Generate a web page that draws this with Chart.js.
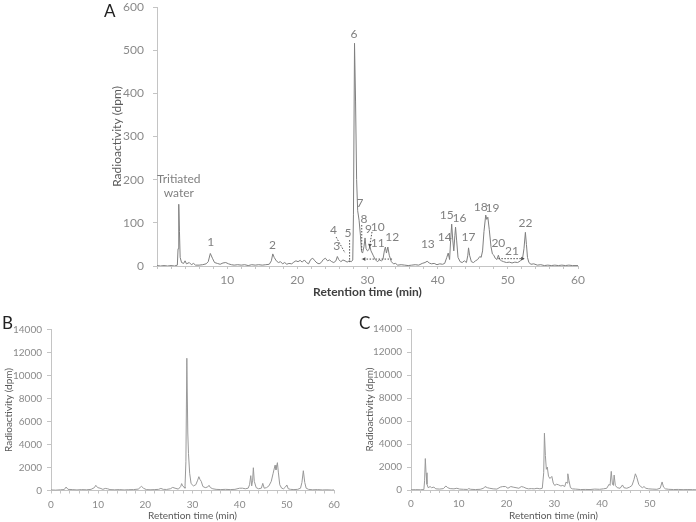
<!DOCTYPE html>
<html>
<head>
<meta charset="utf-8">
<script src="https://cdn.jsdelivr.net/npm/chart.js@4.4.1/dist/chart.umd.min.js"></script>
<style>
  body { margin: 0; background: #fff; }
  #wrap { position: relative; width: 696px; height: 522px; overflow: hidden; font-family: Lato, sans-serif; }
  canvas { position: absolute; }
  .panel { position: absolute; font-size: 17px; line-height: 1; color: #222; }
</style>
</head>
<body>
<div id="wrap">
  <canvas id="chartA" width="495" height="300" style="left:95px;top:0"></canvas>
  <canvas id="chartB" width="345" height="212" style="left:0;top:310px"></canvas>
  <canvas id="chartC" width="341" height="212" style="left:355px;top:310px"></canvas>
  <div class="panel" style="left:104px;top:2px">A</div>
  <div class="panel" style="left:2px;top:314px">B</div>
  <div class="panel" style="left:359px;top:314px">C</div>
</div>
<script>
// Panel A trace (retention time in min, radioactivity in dpm)
const timeA = [0, 0.5, 1, 1.5, 2, 2.5, 2.9, 3, 3.1, 3.2, 3.3, 3.5, 3.8, 4, 4.2, 4.6, 4.9, 5.2, 5.5, 6, 6.5, 7, 7.3, 7.6, 7.9, 8.2, 8.6, 9, 9.4, 9.8,
  10.2, 10.6, 11, 11.5, 12, 12.5, 13, 13.5, 14, 14.5, 15, 15.5, 16, 16.3, 16.5, 16.7, 17, 17.3, 17.6, 17.9, 18.2, 18.5, 18.8, 19.2, 19.5, 19.8,
  20.1, 20.4, 20.7, 21, 21.3, 21.6, 21.9, 22.2, 22.5, 22.8, 23.1, 23.4, 23.7, 24, 24.3, 24.6, 24.9, 25.2, 25.5, 25.7, 25.9, 26.2, 26.5, 26.8,
  27.1, 27.4, 27.7, 27.9, 28, 28.15, 28.3, 28.45, 28.6, 28.8, 29, 29.15, 29.3, 29.5, 29.65, 29.8, 30, 30.2, 30.35, 30.5, 30.8, 31.1, 31.4,
  31.7, 32, 32.2, 32.4, 32.55, 32.7, 32.9, 33.1, 33.4, 33.7, 34, 34.3, 34.8, 35.3, 35.8, 36.3, 36.8, 37.3, 37.8, 38.2, 38.5, 38.8, 39.1,
  39.5, 39.9, 40.3, 40.7, 41, 41.3, 41.5, 41.7, 41.85, 42, 42.15, 42.3, 42.45, 42.55, 42.7, 42.9, 43.2, 43.5, 43.8, 44.1, 44.3, 44.4, 44.55,
  44.8, 45.1, 45.4, 45.7, 46, 46.2, 46.4, 46.6, 46.85, 47, 47.15, 47.35, 47.6, 47.8, 48, 48.2, 48.45, 48.65, 48.85, 49.1, 49.4, 49.8, 50.2,
  50.6, 51, 51.4, 51.8, 52.1, 52.3, 52.5, 52.65, 52.8, 53, 53.3, 53.7, 54.2, 54.7, 55.2, 55.7, 56.2, 56.7, 57.2, 57.7, 58.2, 58.7, 59.2, 60];
const dpmA = [1, 0, 1, 0, 1, 0, 2, 40, 143, 80, 20, 8, 6, 12, 5, 8, 3, 6, 2, 2, 3, 5, 10, 29, 18, 8, 6, 4, 7, 8,
  5, 3, 2, 3, 2, 3, 1, 3, 2, 3, 2, 3, 4, 12, 28, 20, 12, 8, 10, 5, 8, 4, 6, 5, 9, 12,
  10, 13, 9, 14, 8, 5, 15, 18, 12, 7, 5, 8, 15, 18, 12, 14, 10, 8, 12, 22, 15, 10, 14, 12,
  9, 12, 10, 14, 120, 516, 380, 200, 128, 106, 70, 33, 30, 45, 65, 40, 35, 38, 45, 35, 25, 15, 10,
  14, 12, 15, 35, 44, 30, 44, 25, 10, 5, 6, 2, 3, 2, 1, 2, 3, 2, 6, 8, 11, 7, 5,
  6, 3, 5, 4, 6, 20, 30, 15, 60, 97, 60, 35, 70, 90, 60, 20, 10, 8, 12, 8, 25, 42, 25,
  10, 8, 12, 15, 22, 20, 35, 80, 118, 108, 113, 85, 45, 28, 25, 18, 15, 25, 15, 12, 10, 8, 9,
  7, 9, 8, 12, 18, 40, 78, 50, 20, 8, 4, 5, 2, 3, 1, 2, 1, 2, 1, 2, 1, 2, 1, 1];

// Panel B trace
const timeB = [0, 1, 2, 2.8, 3.2, 3.6, 4.5, 5.5, 6.5, 7.5, 8.5, 9.2, 9.5, 9.9, 10.4, 11, 11.5, 12, 12.5, 13.5, 14.5, 15.5, 16.5, 17.5,
  18.5, 19, 19.2, 19.6, 20.2, 21, 22, 22.8, 23.3, 23.8, 24.5, 25.3, 25.8, 26.3, 27, 27.5, 27.7, 27.9, 28.2, 28.4, 28.6, 28.8, 29, 29.15,
  29.4, 29.7, 30.2, 30.7, 31.1, 31.35, 31.6, 31.85, 32.2, 32.7, 33.2, 33.5, 33.8, 34.3, 35, 36, 37, 38, 39, 40, 40.6, 41.2, 41.8, 42.1,
  42.35, 42.55, 42.75, 42.9, 43.1, 43.5, 44, 44.6, 44.9, 45.2, 45.7, 46.2, 46.7, 47.1, 47.5, 47.7, 48, 48.2, 48.5, 48.9, 49.3, 49.7, 50,
  50.3, 50.8, 51.5, 52.3, 52.9, 53.2, 53.5, 53.8, 54.1, 54.6, 55.5, 56.5, 57.5, 58.5, 59.5, 60];
const dpmB = [50, 30, 60, 80, 300, 100, 80, 50, 80, 60, 100, 250, 450, 250, 200, 100, 180, 150, 80, 60, 80, 50, 70, 80,
  120, 300, 360, 200, 80, 60, 80, 100, 180, 100, 90, 150, 270, 200, 120, 350, 600, 400, 300, 200, 2500, 11500, 5000, 3200,
  1500, 600, 400, 500, 900, 1200, 950, 800, 350, 250, 300, 450, 250, 150, 100, 80, 100, 80, 100, 200, 200, 150, 200, 500,
  1290, 400, 900, 1980, 800, 250, 150, 200, 620, 200, 250, 400, 800, 1500, 2200, 1800, 2420, 1600, 500, 200, 150, 300, 480,
  150, 100, 80, 100, 200, 700, 1720, 700, 200, 100, 60, 80, 50, 60, 40, 50];

// Panel C trace
const timeC = [0, 1, 2, 2.7, 2.85, 3, 3.15, 3.35, 3.6, 4, 4.3, 4.8, 5.2, 6, 6.8, 7.3, 7.7, 8.2, 9, 9.6, 10.2, 11, 11.8, 12.1, 12.5,
  13.5, 14.5, 15.2, 15.5, 16, 16.5, 17.2, 18, 18.7, 19.2, 19.8, 20.3, 20.9, 21.4, 22, 22.6, 23.1, 23.6, 24.1, 24.6, 25.2, 25.8, 26.4,
  27, 27.5, 27.8, 27.95, 28.15, 28.35, 28.55, 28.8, 29.1, 29.5, 29.8, 30.1, 30.5, 30.9, 31.4, 31.8, 32.2, 32.5, 32.7, 32.85, 33.1, 33.4,
  33.8, 34.5, 35.5, 36.5, 37.5, 38.5, 39.5, 40.3, 41, 41.5, 41.7, 41.95, 42.2, 42.4, 42.55, 42.8, 43.2, 43.8, 44.3, 44.6, 45.2, 45.8,
  46.3, 46.7, 47, 47.3, 47.7, 48.1, 48.5, 48.8, 49.2, 49.8, 50.5, 51.5, 52.2, 52.6, 52.9, 53.3, 54, 55, 56, 57, 58, 59, 59.7];
const dpmC = [20, 30, 20, 40, 800, 2735, 1500, 500, 200, 300, 200, 250, 100, 80, 120, 350, 200, 120, 100, 150, 80, 60, 50, 120, 60,
  40, 60, 150, 300, 200, 150, 100, 80, 250, 300, 300, 150, 300, 250, 200, 150, 300, 250, 150, 100, 120, 100, 150,
  100, 150, 1500, 4940, 3000, 1800, 2000, 1200, 1000, 1180, 600, 400, 500, 450, 350, 400, 300, 700, 600, 1410, 800, 200,
  100, 80, 40, 50, 40, 80, 60, 100, 150, 500, 400, 1620, 500, 400, 1300, 400, 200, 150, 440, 200, 150, 250,
  400, 900, 1410, 1100, 500, 300, 200, 300, 150, 100, 80, 60, 150, 700, 250, 100, 60, 40, 50, 30, 40, 30, 20];

// Peak labels in panel A (anchor in time / dpm)
const peakNames = ['Tritiated\nwater', '1', '2', '3', '4', '5', '6', '7', '8', '9', '10', '11', '12',
  '13', '14', '15', '16', '17', '18', '19', '20', '21', '22'];
const peakTimes = [3.1, 7.66, 16.45, 25.6, 25.15, 27.23, 28.09, 28.94, 29.5, 30.14, 31.45, 31.45, 33.52,
  38.6, 41.0, 41.28, 43.12, 44.4, 46.14, 47.8, 48.65, 50.6, 52.5];
const peakDpm = [201, 56, 49, 46, 83, 76, 537, 146, 109, 86, 91, 53, 68,
  51, 66, 118, 110, 66, 137, 135, 54, 35, 99];

// dotted leader lines [t1, dpm1, t2, dpm2, arrowhead at end]
const leaders = [
  [25.53, 67, 26.81, 30, false],
  [27.45, 60, 27.45, 9, false],
  [29.18, 95, 29.18, 37, false],
  [30.64, 79, 30.28, 43, true],
  [33.5, 16, 29.2, 16, true],
  [48.65, 17, 52.4, 17, true]
];

const yTicksA = [0, 100, 200, 300, 400, 500, 600];
const yTicksBC = [0, 2000, 4000, 6000, 8000, 10000, 12000, 14000];

const axisGrey = '#c4c4c4';
const tickGrey = '#8a8a8a';

const annotationPlugin = {
  id: 'peakAnnotations',
  afterDatasetsDraw(chart) {
    const { ctx, scales: { x, y } } = chart;
    ctx.save();
    ctx.fillStyle = '#808080';
    ctx.font = '12px Lato';
    ctx.textAlign = 'center';
    ctx.textBaseline = 'middle';
    peakNames.forEach((name, i) => {
      const lines = name.split('\n');
      const px = x.getPixelForValue(peakTimes[i]);
      const py = y.getPixelForValue(peakDpm[i]);
      lines.forEach((ln, j) => ctx.fillText(ln, px, py + j * 13.5));
    });

    ctx.strokeStyle = '#505050';
    ctx.fillStyle = '#505050';
    ctx.lineWidth = 1;
    leaders.forEach((l) => {
      const x1 = x.getPixelForValue(l[0]), y1 = y.getPixelForValue(l[1]);
      const x2 = x.getPixelForValue(l[2]), y2 = y.getPixelForValue(l[3]);
      ctx.setLineDash([1.5, 1.5]);
      ctx.beginPath();
      ctx.moveTo(x1, y1);
      ctx.lineTo(x2, y2);
      ctx.stroke();
      if (l[4]) {
        const a = Math.atan2(y2 - y1, x2 - x1);
        ctx.setLineDash([]);
        ctx.beginPath();
        ctx.moveTo(x2, y2);
        ctx.lineTo(x2 - 4 * Math.cos(a - 0.5), y2 - 4 * Math.sin(a - 0.5));
        ctx.lineTo(x2 - 4 * Math.cos(a + 0.5), y2 - 4 * Math.sin(a + 0.5));
        ctx.closePath();
        ctx.fill();
      }
    });
    ctx.restore();
  }
};

function makeChart(id, times, values, o) {
  const points = times.map((t, i) => ({ x: t, y: values[i] }));
  return new Chart(document.getElementById(id), {
    type: 'scatter',
    data: {
      datasets: [{
        data: points,
        showLine: true,
        borderColor: o.lineColor,
        borderWidth: 1,
        pointRadius: 0,
        tension: 0,
      }],
    },
    options: {
      responsive: false,
      animation: false,
      events: [],
      layout: { padding: o.padding },
      plugins: { legend: { display: false }, tooltip: { enabled: false } },
      scales: {
        x: {
          type: 'linear',
          min: 0,
          max: o.xMax,
          afterBuildTicks: (s) => {
            const t = [];
            for (let v = 0; v <= o.xMax; v += 2) t.push({ value: v });
            s.ticks = t;
          },
          afterFit: (s) => {
            s.height = o.xHeight;
            s.paddingLeft = 0;
            s.paddingRight = 0;
          },
          ticks: {
            autoSkip: false,
            maxRotation: 0,
            padding: o.xPad,
            color: tickGrey,
            font: { family: 'Lato', size: o.tickSize },
            callback: (v) => (o.xLabels.includes(v) ? String(v) : ''),
          },
          grid: { drawOnChartArea: false, drawTicks: true, tickLength: 3, color: axisGrey },
          border: { color: axisGrey },
          title: {
            display: true,
            text: 'Retention time (min)',
            color: o.xTitleColor,
            font: { family: 'Lato', size: o.titleSize, weight: o.xTitleWeight },
            padding: { top: 0, bottom: o.xTitlePad },
          },
        },
        y: {
          min: 0,
          max: o.yTicks[o.yTicks.length - 1],
          afterBuildTicks: (s) => { s.ticks = o.yTicks.map((v) => ({ value: v })); },
          afterFit: (s) => {
            s.width = o.yWidth;
            s.paddingTop = 0;
            s.paddingBottom = 0;
          },
          ticks: {
            padding: o.yPad,
            color: tickGrey,
            font: { family: 'Lato', size: o.tickSize },
            callback: (v) => String(v),
          },
          grid: { drawOnChartArea: false, drawTicks: true, tickLength: 4, color: axisGrey },
          border: { color: axisGrey },
          title: {
            display: true,
            text: 'Radioactivity (dpm)',
            color: '#595959',
            font: { family: 'Lato', size: o.titleSize },
            padding: { top: o.yTitlePad, bottom: 0 },
          },
        },
      },
    },
    plugins: o.plugins || [],
  });
}

makeChart('chartA', timeA, dpmA, {
  lineColor: '#7f7f7f',
  padding: { top: 7, right: 12, left: 0, bottom: 0 },
  xMax: 60, xHeight: 34, xPad: 4, tickSize: 12, titleSize: 12,
  xLabels: [10, 20, 30, 40, 50, 60],
  xTitleColor: '#404040', xTitleWeight: 'bold', xTitlePad: 1,
  yTicks: yTicksA, yWidth: 62, yPad: 9, yTitlePad: 15,
  plugins: [annotationPlugin],
});

makeChart('chartB', timeB, dpmB, {
  lineColor: '#999999',
  padding: { top: 19.5, right: 11, left: 0, bottom: 0 },
  xMax: 60, xHeight: 31.5, xPad: 5, tickSize: 10, titleSize: 10,
  xLabels: [0, 10, 20, 30, 40, 50, 60],
  xTitleColor: '#595959', xTitleWeight: 'normal', xTitlePad: 0,
  yTicks: yTicksBC, yWidth: 51, yPad: 5, yTitlePad: 3,
});

makeChart('chartC', timeC, dpmC, {
  lineColor: '#999999',
  padding: { top: 19, right: 0, left: 0, bottom: 0 },
  xMax: 59.7, xHeight: 32, xPad: 5, tickSize: 10, titleSize: 10,
  xLabels: [0, 10, 20, 30, 40, 50],
  xTitleColor: '#595959', xTitleWeight: 'normal', xTitlePad: 0,
  yTicks: yTicksBC, yWidth: 56, yPad: 5, yTitlePad: 9,
});
</script>
</body>
</html>
